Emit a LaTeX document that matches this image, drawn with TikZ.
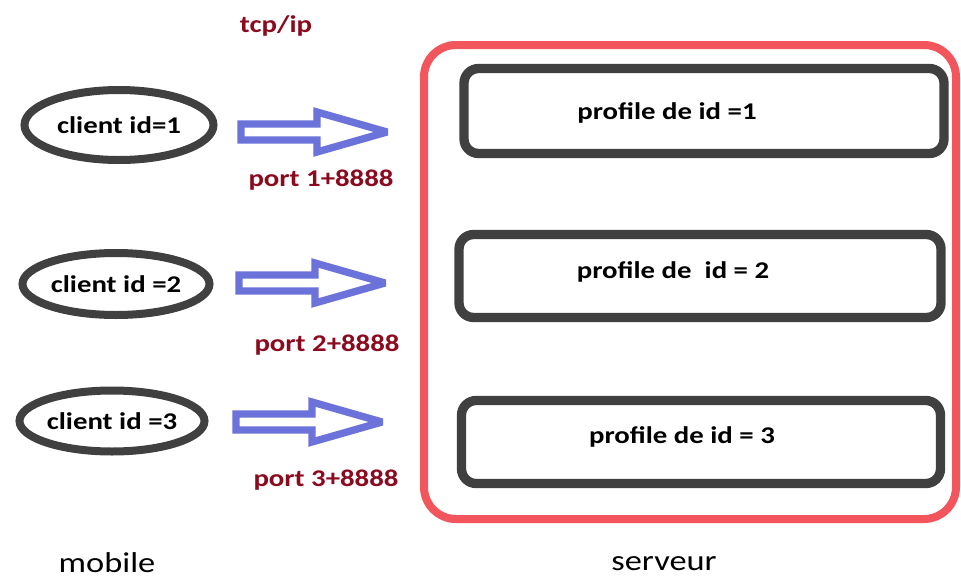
\documentclass[tikz,border=0pt]{standalone}
\usepackage{fontspec}
\setmainfont{Carlito}
\newfontfamily\labelfont[FakeStretch=1.2]{Carlito}
\usetikzlibrary{shapes.geometric}
\definecolor{outline}{HTML}{404040}
\definecolor{portred}{HTML}{8B0A1E}
\definecolor{arrowblue}{HTML}{6B72D9}
\definecolor{serverred}{HTML}{F2555C}
\begin{document}
\begin{tikzpicture}[x=0.75pt,y=-0.75pt,
  bold text/.style={font=\labelfont\bfseries\fontsize{18}{21}\selectfont},
  client/.style={ellipse, draw=outline, line width=6pt, inner sep=0pt,
    bold text, text=black},
  profilebox/.style={rectangle, rounded corners=11pt, draw=outline,
    line width=7pt, inner sep=0pt},
  ptext/.style={bold text, text=black},
  porttext/.style={bold text, text=portred},
  caption/.style={font=\labelfont\fontsize{21.5}{25}\selectfont, text=black},
  blockarrow/.pic={
    \draw[arrowblue, line width=5.5pt, line join=miter, miter limit=3,
          fill=white]
      (0,-8) -- (76,-8) -- (76,-20) -- (146,0) -- (76,20) -- (76,8)
      -- (0,8) -- cycle;
  }]
  \useasboundingbox (0,0) rectangle (961,582);

  % server frame
  \draw[serverred, line width=6pt, rounded corners=24pt]
    (424,45) rectangle (956,519);

  % clients
  \node[client, minimum width=189*0.75pt, minimum height=70*0.75pt]
    (c1) at (119,125) {client id=1};
  \node[client, minimum width=187*0.75pt, minimum height=62*0.75pt]
    (c2) at (116,284) {client id =2};
  \node[client, minimum width=185*0.75pt, minimum height=61*0.75pt]
    (c3) at (112,421) {client id =3};

  % profiles on the server
  \node[profilebox, minimum width=480*0.75pt, minimum height=85*0.75pt]
    (p1) at (704,111) {};
  \node[profilebox, minimum width=482*0.75pt, minimum height=83*0.75pt]
    (p2) at (700,276) {};
  \node[profilebox, minimum width=479*0.75pt, minimum height=83*0.75pt]
    (p3) at (701,442) {};
  \node[ptext] (t1) at (667,113) {profile de id =1};
  \node[ptext] (t2) at (673,272) {profile de \ id = 2};
  \node[ptext] (t3) at (682,437) {profile de id = 3};

  % transmission arrows
  \coordinate (a1) at (241,132);
  \coordinate (a2) at (239,283);
  \coordinate (a3) at (236,422);
  \pic at (a1) {blockarrow};
  \pic at (a2) {blockarrow};
  \pic at (a3) {blockarrow};

  % labels
  \node[porttext] (tcp) at (276,26) {tcp/ip};
  \node[porttext] (port1) at (321,180) {port 1+8888};
  \node[porttext] (port2) at (327,345) {port 2+8888};
  \node[porttext] (port3) at (326,480) {port 3+8888};
  \node[caption] (mob) at (107,563) {mobile};
  \node[caption] (srv) at (664,564) {serveur};
\end{tikzpicture}
\end{document}
